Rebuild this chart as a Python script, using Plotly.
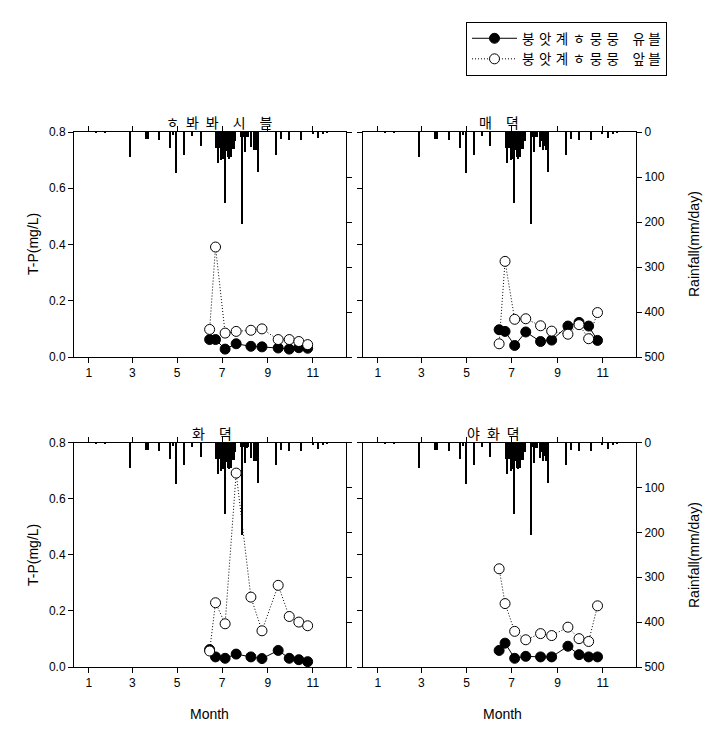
import plotly.graph_objects as go

# ---------------- data ----------------
sample_dates = ["2009-06-14", "2009-06-22", "2009-07-05", "2009-07-20", "2009-08-09",
                "2009-08-24", "2009-09-15", "2009-09-30", "2009-10-13", "2009-10-25"]

# T-P (mg/L) per site: filled (solid) and open (dotted)
tl_solid = [0.062, 0.062, 0.028, 0.047, 0.038, 0.036, 0.032, 0.028, 0.033, 0.031]
tl_open = [0.098, 0.391, 0.085, 0.091, 0.095, 0.100, 0.062, 0.062, 0.055, 0.044]
tr_solid = [0.097, 0.091, 0.041, 0.089, 0.055, 0.060, 0.110, 0.123, 0.110, 0.059]
tr_open = [0.047, 0.340, 0.134, 0.136, 0.111, 0.092, 0.081, 0.115, 0.065, 0.158]
bl_solid = [0.062, 0.036, 0.031, 0.046, 0.036, 0.030, 0.059, 0.031, 0.026, 0.019]
bl_open = [0.057, 0.229, 0.154, 0.691, 0.249, 0.129, 0.291, 0.180, 0.160, 0.147]
br_solid = [0.059, 0.085, 0.031, 0.038, 0.036, 0.036, 0.074, 0.044, 0.036, 0.036]
br_open = [0.350, 0.226, 0.127, 0.097, 0.119, 0.112, 0.142, 0.101, 0.091, 0.218]

# daily rainfall (mm/day)
rain_dates = ["2009-01-11", "2009-01-23", "2009-02-26", "2009-03-20", "2009-03-23",
              "2009-04-07", "2009-04-22", "2009-04-26", "2009-04-30", "2009-05-11",
              "2009-05-22", "2009-06-02", "2009-06-23", "2009-06-25", "2009-06-26",
              "2009-06-27", "2009-06-29", "2009-06-30", "2009-07-02", "2009-07-05",
              "2009-07-06", "2009-07-08", "2009-07-09", "2009-07-10", "2009-07-12",
              "2009-07-13", "2009-07-14", "2009-07-16", "2009-07-17", "2009-07-19",
              "2009-07-27", "2009-07-28", "2009-07-30", "2009-08-01", "2009-08-02",
              "2009-08-04", "2009-08-05", "2009-08-09", "2009-08-10", "2009-08-13",
              "2009-08-15", "2009-08-16", "2009-08-18", "2009-08-19", "2009-09-13",
              "2009-09-19", "2009-09-30", "2009-10-16", "2009-11-01", "2009-11-08",
              "2009-11-15", "2009-11-20"]
rain_vals = [2, 1, 55, 15, 15,
             17, 35, 7, 91, 50,
             8, 31, 35, 69, 36,
             36, 30, 63, 59, 158,
             40, 42, 56, 59, 50,
             56, 37, 37, 37, 20,
             10, 204, 10, 44, 11,
             11, 10, 33, 20, 41,
             30, 41, 39, 89, 50,
             15, 17, 17, 5, 13,
             4, 2]

panel_titles = ["ㅎ\u2002봐\u2002봐\u2003시\u2003블", "매\u2003뎍", "화\u2003뎍", "야\u2002화\u2002뎍"]
legend_names = ["붕\u2004앗\u2004계\u2004ㅎ\u2004뭉\u2004뭉\u2003유\u2005블",
                "붕\u2004앗\u2004계\u2004ㅎ\u2004뭉\u2004뭉\u2003앞\u2005블"]
tp_ticks = [0.0, 0.2, 0.4, 0.6, 0.8]
rain_ticks = [0, 100, 200, 300, 400, 500]

# ---------------- layout geometry ----------------
W, H = 726, 736
def px_x(v):
    return v / W
def px_y(v):
    return 1 - v / H

x_doms = [[px_x(74), px_x(346)], [px_x(363), px_x(636)],
          [px_x(74), px_x(346)], [px_x(363), px_x(636)]]
y_doms = [[px_y(357), px_y(132)], [px_y(357), px_y(132)],
          [px_y(667), px_y(442.5)], [px_y(667), px_y(442.5)]]

series = [(tl_solid, tl_open), (tr_solid, tr_open), (bl_solid, bl_open), (br_solid, br_open)]

TICKFONT = dict(family="Liberation Sans, Arial", size=12, color="black")
fig = go.Figure()

for i in range(4):
    xa = "x" if i == 0 else f"x{i+1}"
    yr = "y" if i == 0 else f"y{2*i+1}"
    yl = f"y{2*i+2}"
    solid, open_ = series[i]
    fig.add_trace(go.Bar(x=rain_dates, y=rain_vals, xaxis=xa, yaxis=yr,
                         marker=dict(color="black", line=dict(width=0)),
                         width=2.0 * 86400000, showlegend=False))
    fig.add_trace(go.Scatter(x=sample_dates, y=solid, xaxis=xa, yaxis=yl, mode="lines+markers",
                             line=dict(color="black", width=1),
                             marker=dict(symbol="circle", size=10, color="black",
                                         line=dict(color="black", width=1)),
                             name=legend_names[0], showlegend=(i == 0), legendrank=1))
    fig.add_trace(go.Scatter(x=sample_dates, y=open_, xaxis=xa, yaxis=yl, mode="lines+markers",
                             line=dict(color="black", width=1, dash="1px,2px"),
                             marker=dict(symbol="circle", size=10, color="white",
                                         line=dict(color="black", width=1)),
                             name=legend_names[1], showlegend=(i == 0), legendrank=2))

    left_panel = i in (0, 2)
    xk = "xaxis" if i == 0 else f"xaxis{i+1}"
    yrk = "yaxis" if i == 0 else f"yaxis{2*i+1}"
    ylk = f"yaxis{2*i+2}"
    fig.layout[xk] = dict(domain=x_doms[i], anchor=yr, type="date", automargin=False,
                          range=["2008-12-12", "2009-12-16"],
                          tick0="2009-01-01", dtick="M2", tickformat="%-m",
                          showline=True, linecolor="black", linewidth=1, mirror="ticks",
                          ticks="outside", ticklen=5, tickcolor="black",
                          showgrid=False, zeroline=False, tickfont=TICKFONT)
    fig.layout[yrk] = dict(domain=y_doms[i], anchor=xa, side="right", automargin=False,
                           range=[500, 0], tickvals=rain_ticks,
                           showticklabels=not left_panel,
                           showline=True, linecolor="black", linewidth=1,
                           ticks="outside", ticklen=5, tickcolor="black",
                           showgrid=False, zeroline=False, tickfont=TICKFONT)
    fig.layout[ylk] = dict(overlaying=yr, anchor=xa, side="left", automargin=False,
                           range=[0, 0.8], tickvals=tp_ticks, tickformat=".1f",
                           showticklabels=left_panel,
                           showline=True, linecolor="black", linewidth=1,
                           ticks="outside", ticklen=5, tickcolor="black",
                           showgrid=False, zeroline=False, tickfont=TICKFONT)

annotations = []
title_pos = [(219, 122), (499, 122), (212, 433), (493, 433)]
for t, (ax_, ay_) in zip(panel_titles, title_pos):
    annotations.append(dict(text=t, x=px_x(ax_), y=px_y(ay_), xref="paper", yref="paper",
                            showarrow=False, xanchor="center", yanchor="middle",
                            font=dict(family="Noto Sans CJK KR", size=14, color="black")))
AXFONT = dict(family="Liberation Sans, Arial", size=14, color="black")
for yc in (244, 555):
    annotations.append(dict(text="T-P(mg/L)", x=px_x(33), y=px_y(yc), xref="paper", yref="paper",
                            xanchor="center", yanchor="middle",
                            showarrow=False, textangle=-90, font=AXFONT))
    annotations.append(dict(text="Rainfall(mm/day)", x=px_x(694), y=px_y(yc), xref="paper",
                            yref="paper", xanchor="center", yanchor="middle",
                            showarrow=False, textangle=-90, font=AXFONT))
for xc in (210, 503):
    annotations.append(dict(text="Month", x=px_x(xc), y=px_y(714), xref="paper", yref="paper",
                            xanchor="center", yanchor="middle",
                            showarrow=False, font=AXFONT))

fig.update_layout(
    width=W, height=H, margin=dict(l=0, r=0, t=0, b=0, autoexpand=False),
    paper_bgcolor="white", plot_bgcolor="white",
    bargap=0, annotations=annotations,
    legend=dict(x=466 / W, y=1 - 22 / H,
                xanchor="left", yanchor="top", bordercolor="black", borderwidth=1,
                bgcolor="white", itemwidth=45, tracegroupgap=0,
                font=dict(family="Noto Sans CJK KR", size=13.5, color="black")),
)

fig.write_html("out.html")
